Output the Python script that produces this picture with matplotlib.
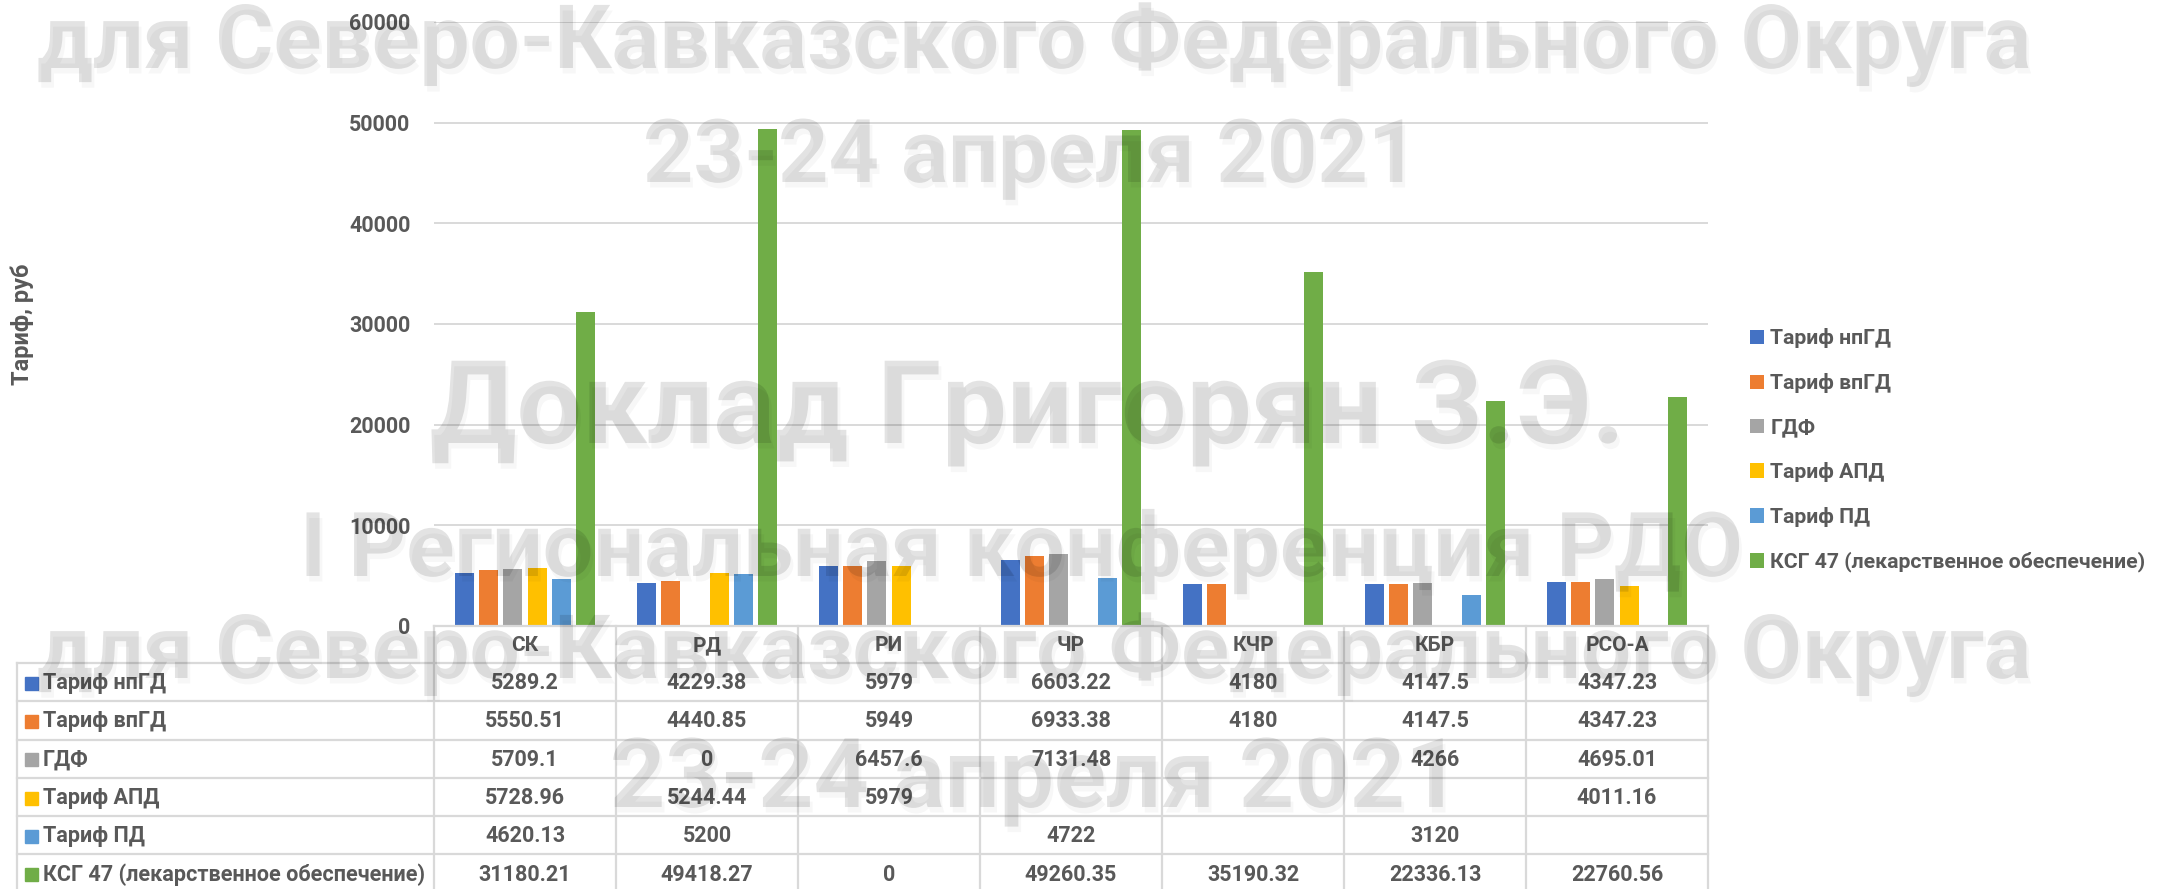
import numpy as np
import matplotlib
matplotlib.use('Agg')
import matplotlib.pyplot as plt
import matplotlib.patheffects as pe
from matplotlib.patches import Rectangle

# ---------------- data ----------------
categories = ['СК', 'РД', 'РИ', 'ЧР', 'КЧР', 'КБР', 'РСО-А']
series_names = ['Тариф нпГД', 'Тариф впГД', 'ГДФ', 'Тариф АПД', 'Тариф ПД',
                'КСГ 47 (лекарственное обеспечение)']
nan = np.nan
tarif_npgd = [5289.2, 4229.38, 5979, 6603.22, 4180, 4147.5, 4347.23]
tarif_vpgd = [5550.51, 4440.85, 5949, 6933.38, 4180, 4147.5, 4347.23]
gdf = [5709.1, 0, 6457.6, 7131.48, nan, 4266, 4695.01]
tarif_apd = [5728.96, 5244.44, 5979, nan, nan, nan, 4011.16]
tarif_pd = [4620.13, 5200, nan, 4722, nan, 3120, nan]
ksg47 = [31180.21, 49418.27, 0, 49260.35, 35190.32, 22336.13, 22760.56]
yticks = [0, 10000, 20000, 30000, 40000, 50000, 60000]
y_label = 'Тариф, руб'
watermark = ['для Северо-Кавказского Федерального Округа', '23-24 апреля 2021',
             'Доклад Григорян З.Э.', 'I Региональная конференция РДО',
             'для Северо-Кавказского Федерального Округа', '23-24 апреля 2021']

series = [tarif_npgd, tarif_vpgd, gdf, tarif_apd, tarif_pd, ksg47]
colors = ['#4472C4', '#ED7D31', '#A5A5A5', '#FFC000', '#5B9BD5', '#70AD47']
TXT = '#595959'
GRID = '#d9d9d9'

plt.rcParams['font.family'] = ['Roboto', 'DejaVu Sans']

W, H = 2159, 889
fig = plt.figure(figsize=(W / 100, H / 100), dpi=100)

# main axes (pixel layout)
ax_l, ax_r, ax_t, ax_b = 434, 1708, 22, 626
ax = fig.add_axes([ax_l / W, 1 - ax_b / H, (ax_r - ax_l) / W, (ax_b - ax_t) / H])
ax.set_xlim(-0.5, len(categories) - 0.5)
ax.set_ylim(yticks[0], yticks[-1])
ax.set_yticks(yticks)
ax.set_xticks([])
for s in ax.spines.values():
    s.set_visible(False)
ax.grid(axis='y', color=GRID, lw=1.4)
ax.set_axisbelow(True)
ax.tick_params(axis='y', length=0, pad=17, labelsize=15.5, labelcolor=TXT)
for lbl in ax.get_yticklabels():
    lbl.set_fontweight('bold')

x = np.arange(len(categories))
slot = 24.3 / 182
bw = 19 / 182
handles = []
for i, (name, vals, c) in enumerate(zip(series_names, series, colors)):
    b = ax.bar(x + (i - 2.5) * slot, vals, width=bw, color=c, label=name, zorder=2)
    handles.append(b)

leg = ax.legend(handles, series_names, loc='center left',
                bbox_to_anchor=(1750 / W, 1 - 450.5 / H), bbox_transform=fig.transFigure,
                frameon=False, prop={'weight': 'bold', 'size': 15.3}, labelcolor=TXT,
                handlelength=0.66, handleheight=0.66, handletextpad=0.3,
                labelspacing=1.17, borderpad=0, borderaxespad=0)

# y label
fig.text(22 / W, 1 - 324 / H, y_label, rotation=90, ha='center', va='center',
         fontsize=17, fontweight='bold', color=TXT)

# ---------------- data table ----------------
tab = fig.add_axes([0, 0, 1, 1], zorder=3)
tab.set_xlim(0, W)
tab.set_ylim(H, 0)
tab.axis('off')
tab.patch.set_visible(False)

to_tab = lambda p: tab.transData.inverted().transform(ax.transData.transform(p))
edges = [to_tab((k - 0.5, 0))[0] for k in range(len(categories) + 1)]
y0 = to_tab((0, 0))[1]
left = 17
head_h = 37
row_h = 38.3
row_tops = [y0 + head_h + r * row_h for r in range(len(series) + 1)]

lw = 1.6
tab.plot([edges[0], edges[-1]], [y0, y0], color=GRID, lw=lw)
for yt in row_tops:
    tab.plot([left, edges[-1]], [yt, yt], color=GRID, lw=lw)
for e in edges:
    tab.plot([e, e], [y0, H + 10], color=GRID, lw=lw)
tab.plot([left, left], [row_tops[0], H + 10], color=GRID, lw=lw)


def fmt(v):
    if v is None or (isinstance(v, float) and np.isnan(v)):
        return ''
    return f'{v:.2f}'.rstrip('0').rstrip('.')


centers = [(edges[k] + edges[k + 1]) / 2 for k in range(len(categories))]
for k, cat in enumerate(categories):
    tab.text(centers[k], y0 + head_h / 2 + 1, cat, ha='center', va='center',
             fontsize=15, fontweight='bold', color=TXT)
for r, (name, vals, c) in enumerate(zip(series_names, series, colors)):
    yc = row_tops[r] + row_h / 2 + 1
    tab.add_patch(Rectangle((25, yc - 6.5), 13, 13, color=c))
    tab.text(43, yc, name, ha='left', va='center', fontsize=15.6,
             fontweight='bold', color=TXT)
    for k, v in enumerate(vals):
        tab.text(centers[k], yc, fmt(v), ha='center', va='center',
                 fontsize=15.5, fontweight='bold', color=TXT)

# ---------------- watermark ----------------
wm_layout = [(37, 2031, 68), (643, 1418, 182), (430, 1625, 443),
             (300, 1742, 576), (37, 2031, 678), (610, 1460, 807)]
renderer = fig.canvas.get_renderer()
for s, (xl, xr, yb) in zip(watermark, wm_layout):
    t = fig.text(xl / W, 1 - yb / H, s, ha='left', va='baseline', fontsize=60,
                 fontweight='bold', color='black', alpha=0.11, zorder=100,
                 path_effects=[pe.SimplePatchShadow(offset=(2, -4), shadow_rgbFace='black', alpha=0.03),
                               pe.Normal()])
    wdt = t.get_window_extent(renderer).width
    t.set_fontsize(60 * (xr - xl) / wdt)

fig.savefig('out.png', dpi=100)
